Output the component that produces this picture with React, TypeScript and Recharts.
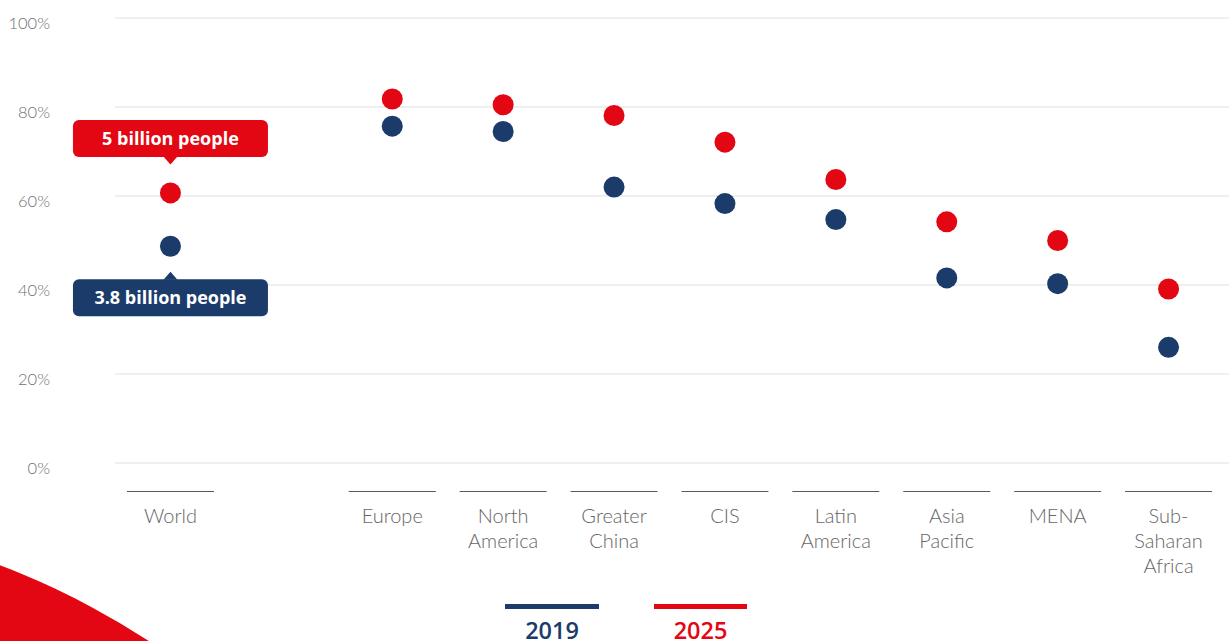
import React from 'react';
import { ComposedChart, Line, XAxis, YAxis, CartesianGrid, Legend } from 'recharts';

const NAVY = '#1b3b6a';
const RED = '#e30613';
const GRAY_TEXT = '#666666';

const categories = ['World', '', 'Europe', 'North America', 'Greater China', 'CIS', 'Latin America', 'Asia Pacific', 'MENA', 'Sub-Saharan Africa'];
const tickLabels: string[][] = [['World'], [], ['Europe'], ['North', 'America'], ['Greater', 'China'], ['CIS'], ['Latin', 'America'], ['Asia', 'Pacific'], ['MENA'], ['Sub-', 'Saharan', 'Africa']];
const values2019: (number | null)[] = [48.7, null, 75.7, 74.5, 62.0, 58.3, 54.7, 41.6, 40.3, 26.0];
const values2025: (number | null)[] = [60.7, null, 81.8, 80.5, 78.1, 72.1, 63.7, 54.2, 50.0, 39.1];
const yTicks = [0, 20, 40, 60, 80, 100];
const seriesNames = ['2019', '2025'];
const callout2019 = '3.8 billion people';
const callout2025 = '5 billion people';

const data = categories.map((name, i) => ({ name, v2019: values2019[i], v2025: values2025[i] }));

const FONT = 'Lato, "Open Sans", sans-serif';
const BOLD_FONT = '"Open Sans", Lato, sans-serif';

const YTick = (props: any) => {
  const { y, payload } = props;
  return (
    <text x={50} y={y + 10.5} textAnchor="end" fill="#6e6e6e" fontSize={16.5} fontFamily={FONT} fontWeight={300}>
      {payload.value}%
    </text>
  );
};

const XTick = (props: any) => {
  const { x, payload } = props;
  const lines = tickLabels[payload.index] || [];
  if (!lines.length) return <g />;
  return (
    <g>
      <line x1={x - 43.5} x2={x + 43.5} y1={491.5} y2={491.5} stroke="#5a5a5a" strokeWidth={1} />
      {lines.map((l, i) => (
        <text key={i} x={x} y={523 + i * 25} textAnchor="middle" fill={GRAY_TEXT} fontSize={20} fontFamily={FONT} fontWeight={300}>
          {l}
        </text>
      ))}
    </g>
  );
};

const makeDot = (color: string, above: boolean, label: string) => (p: any) => {
  const { cx, cy, index, value } = p;
  if (value == null || cy == null || isNaN(cy)) return <g key={`d${index}`} />;
  return (
    <g key={`d${index}`}>
      <circle cx={cx} cy={cy} r={10.5} fill={color} />
      {index === 0 && (above ? (
        <g>
          <rect x={cx - 97.5} y={cy - 73} width={195} height={37} rx={6} fill={color} />
          <polygon points={`${cx - 7},${cy - 36.5} ${cx + 7},${cy - 36.5} ${cx},${cy - 28.5}`} fill={color} />
          <text x={cx} y={cy - 48} textAnchor="middle" fill="#fff" fontSize={18} fontWeight={700} fontFamily={BOLD_FONT}>{label}</text>
        </g>
      ) : (
        <g>
          <rect x={cx - 97.5} y={cy + 33} width={195} height={37} rx={6} fill={color} />
          <polygon points={`${cx - 7},${cy + 33.5} ${cx + 7},${cy + 33.5} ${cx},${cy + 25.5}`} fill={color} />
          <text x={cx} y={cy + 58} textAnchor="middle" fill="#fff" fontSize={18} fontWeight={700} fontFamily={BOLD_FONT}>{label}</text>
        </g>
      ))}
    </g>
  );
};

const LegendContent = () => (
  <svg width={1229} height={43} style={{ overflow: 'visible', display: 'block' }}>
    <rect x={505} y={6} width={94} height={5} fill={NAVY} />
    <text x={552} y={41} textAnchor="middle" fill={NAVY} fontSize={23.5} fontWeight={600} fontFamily={BOLD_FONT}>{seriesNames[0]}</text>
    <rect x={654} y={6} width={93} height={5} fill={RED} />
    <text x={700.5} y={41} textAnchor="middle" fill={RED} fontSize={23.5} fontWeight={600} fontFamily={BOLD_FONT}>{seriesNames[1]}</text>
  </svg>
);

export default function App() {
  return (
    <div style={{ position: 'absolute', left: 0, top: 0, width: 1229, height: 641, overflow: 'hidden', background: '#fff' }}>
      <div style={{ position: 'absolute', left: -1051, top: 515, width: 1552, height: 1552, borderRadius: '50%', background: RED }} />
      <div style={{ position: 'absolute', left: 0, top: 0 }}>
        <ComposedChart width={1229} height={641} data={data} margin={{ top: 18, right: 0, bottom: 0, left: 0 }}>
          <CartesianGrid vertical={false} stroke="#e0e0e0" strokeWidth={1.2} />
          <XAxis dataKey="name" type="category" scale="band" height={178} axisLine={false} tickLine={false} interval={0} padding={{ left: 0, right: 5 }} tick={<XTick />} />
          <YAxis type="number" domain={[0, 100]} ticks={yTicks} width={115} axisLine={false} tickLine={false} interval={0} tick={<YTick />} />
          <Legend verticalAlign="middle" align="center" layout="horizontal" wrapperStyle={{ top: 598, left: 0, width: 1229, height: 43 }} content={<LegendContent />} />
          <Line dataKey="v2019" name={seriesNames[0]} stroke="none" isAnimationActive={false} activeDot={false} dot={makeDot(NAVY, false, callout2019)} />
          <Line dataKey="v2025" name={seriesNames[1]} stroke="none" isAnimationActive={false} activeDot={false} dot={makeDot(RED, true, callout2025)} />
        </ComposedChart>
      </div>
    </div>
  );
}
